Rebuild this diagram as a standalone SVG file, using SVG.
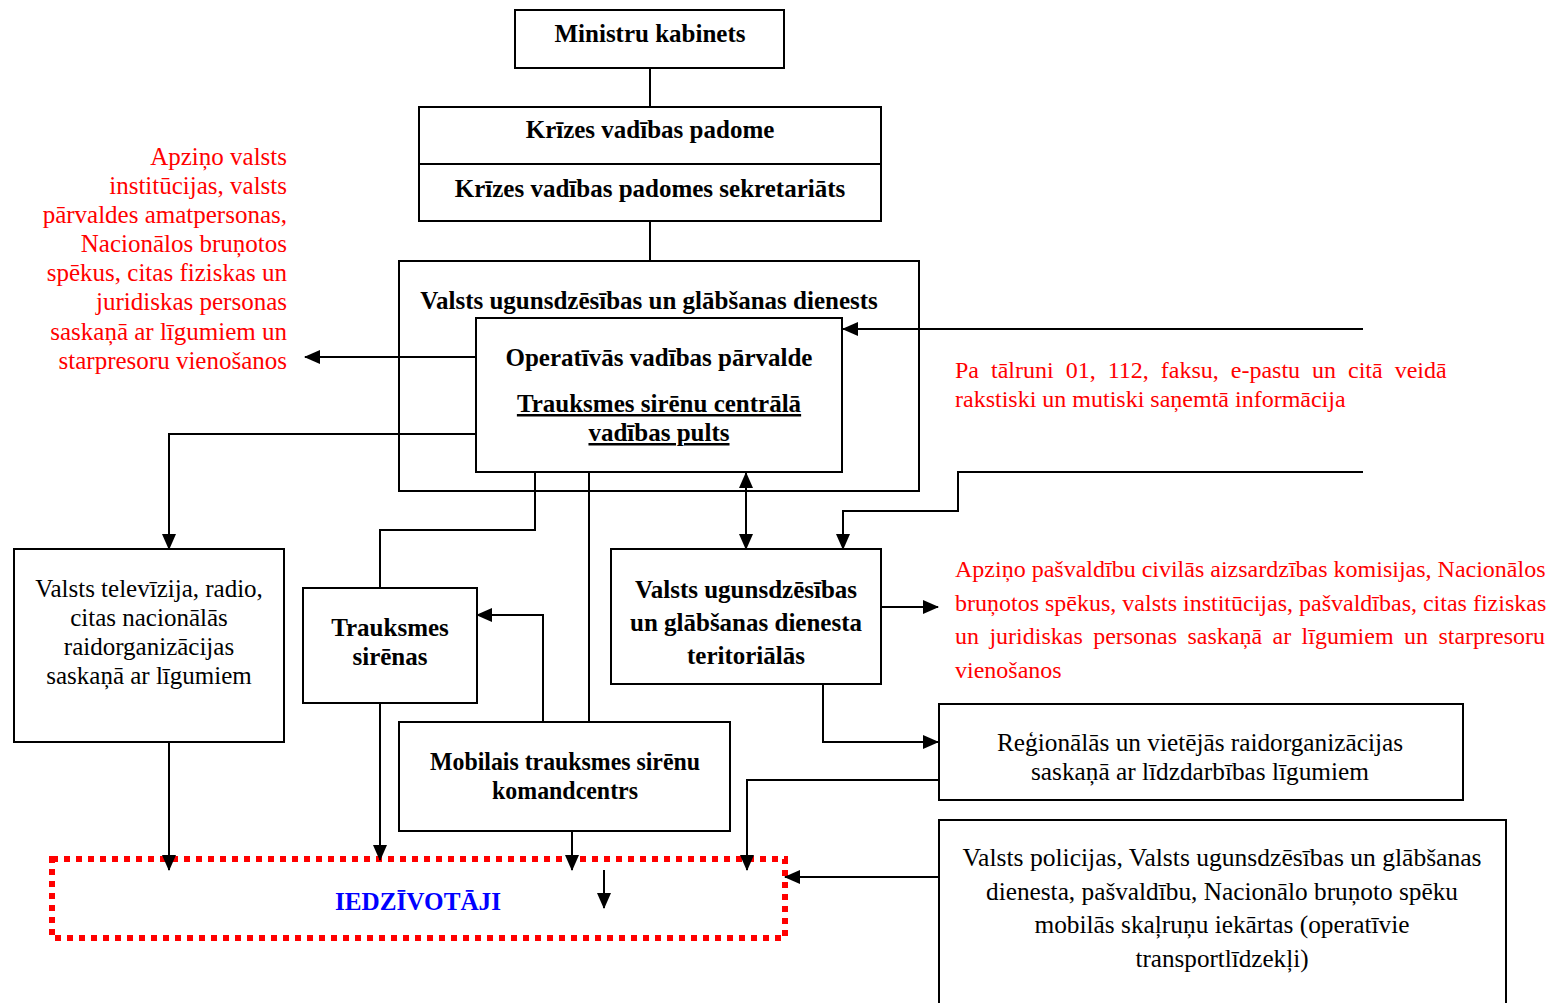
<svg xmlns="http://www.w3.org/2000/svg" width="1547" height="1003" viewBox="0 0 1547 1003">
<style>
.box{fill:#fff;stroke:#000;stroke-width:2}
.b{font-family:"Liberation Serif",serif;font-weight:bold;font-size:25px;fill:#000;text-anchor:middle}
.n{font-family:"Liberation Serif",serif;font-size:25px;fill:#000;text-anchor:middle}
.r{font-family:"Liberation Serif",serif;font-size:25px;fill:#f00;text-anchor:end}
.r2{font-family:"Liberation Serif",serif;font-size:24px;fill:#f00}
.c{fill:none;stroke:#000;stroke-width:2}
</style>
<defs>
<marker id="ah" markerUnits="userSpaceOnUse" markerWidth="16" markerHeight="14" refX="15" refY="7" orient="auto-start-reverse">
<path d="M0,0 L16,7 L0,14 Z" fill="#000"/>
</marker>
</defs>
<rect width="1547" height="1003" fill="#fff"/>

<g id="ministru">
<rect class="box" x="515" y="10" width="269" height="58"/>
<text class="b" x="650" y="42">Ministru kabinets</text>
</g>

<g id="krizes">
<rect class="box" x="419" y="107" width="462" height="114"/>
<line class="c" x1="419" y1="164" x2="881" y2="164"/>
<text class="b" x="650" y="138">Krīzes vadības padome</text>
<text class="b" x="650" y="197">Krīzes vadības padomes sekretariāts</text>
</g>

<g id="vugd">
<rect class="box" x="399" y="261" width="520" height="230"/>
<text class="b" x="649" y="309">Valsts ugunsdzēsības un glābšanas dienests</text>
</g>

<g id="ovp">
<rect class="box" x="476" y="318" width="366" height="154"/>
<text class="b" x="659" y="366">Operatīvās vadības pārvalde</text>
<text class="b" x="659" y="412" text-decoration="underline">Trauksmes sirēnu centrālā</text>
<text class="b" x="659" y="441" text-decoration="underline">vadības pults</text>
</g>

<g id="left-info">
<text class="r" x="287" y="165">Apziņo valsts</text>
<text class="r" x="287" y="194">institūcijas, valsts</text>
<text class="r" x="287" y="223">pārvaldes amatpersonas,</text>
<text class="r" x="287" y="252">Nacionālos bruņotos</text>
<text class="r" x="287" y="281">spēkus, citas fiziskas un</text>
<text class="r" x="287" y="310">juridiskas personas</text>
<text class="r" x="287" y="340">saskaņā ar līgumiem un</text>
<text class="r" x="287" y="369">starpresoru vienošanos</text>
</g>

<g id="top-right-info">
<text class="r2" x="955" y="378" word-spacing="6">Pa tālruni 01, 112, faksu, e-pastu un citā veidā</text>
<text class="r2" x="955" y="407">rakstiski un mutiski saņemtā informācija</text>
</g>

<g id="tv">
<rect class="box" x="14" y="549" width="270" height="193"/>
<text class="n" x="149" y="597">Valsts televīzija, radio,</text>
<text class="n" x="149" y="626">citas nacionālās</text>
<text class="n" x="149" y="655">raidorganizācijas</text>
<text class="n" x="149" y="684">saskaņā ar līgumiem</text>
</g>

<g id="sirenas">
<rect class="box" x="303" y="588" width="174" height="115"/>
<text class="b" x="390" y="636">Trauksmes</text>
<text class="b" x="390" y="665">sirēnas</text>
</g>

<g id="teritorialas">
<rect class="box" x="611" y="549" width="270" height="135"/>
<text class="b" x="746" y="598">Valsts ugunsdzēsības</text>
<text class="b" x="746" y="631">un glābšanas dienesta</text>
<text class="b" x="746" y="664">teritoriālās</text>
</g>

<g id="right-info">
<text class="r2" x="955" y="577">Apziņo pašvaldību civilās aizsardzības komisijas, Nacionālos</text>
<text class="r2" x="955" y="611">bruņotos spēkus, valsts institūcijas, pašvaldības, citas fiziskas</text>
<text class="r2" x="955" y="644" word-spacing="4.4">un juridiskas personas saskaņā ar līgumiem un starpresoru</text>
<text class="r2" x="955" y="678">vienošanos</text>
</g>

<g id="mobilais">
<rect class="box" x="399" y="722" width="331" height="109"/>
<text class="b" x="565" y="770" textLength="270" lengthAdjust="spacingAndGlyphs">Mobilais trauksmes sirēnu</text>
<text class="b" x="565" y="799" textLength="146" lengthAdjust="spacingAndGlyphs">komandcentrs</text>
</g>

<g id="regionalas">
<rect class="box" x="939" y="704" width="524" height="96"/>
<text class="n" x="1200" y="751" textLength="406" lengthAdjust="spacingAndGlyphs">Reģionālās un vietējās raidorganizācijas</text>
<text class="n" x="1200" y="780" textLength="338" lengthAdjust="spacingAndGlyphs">saskaņā ar līdzdarbības līgumiem</text>
</g>

<g id="policija">
<rect class="box" x="939" y="820" width="567" height="190"/>
<text class="n" x="1222" y="866" textLength="519" lengthAdjust="spacingAndGlyphs">Valsts policijas, Valsts ugunsdzēsības un glābšanas</text>
<text class="n" x="1222" y="900" textLength="472" lengthAdjust="spacingAndGlyphs">dienesta, pašvaldību, Nacionālo bruņoto spēku</text>
<text class="n" x="1222" y="933" textLength="375" lengthAdjust="spacingAndGlyphs">mobilās skaļruņu iekārtas (operatīvie</text>
<text class="n" x="1222" y="967" textLength="173" lengthAdjust="spacingAndGlyphs">transportlīdzekļi)</text>
</g>

<g id="iedzivotaji">
<rect x="52" y="859" width="733" height="79" fill="none" stroke="#f00" stroke-width="6" stroke-dasharray="6,6"/>
<text class="b" x="418" y="910" style="fill:#00f" textLength="166" lengthAdjust="spacingAndGlyphs">IEDZĪVOTĀJI</text>
</g>

<g id="connectors">
<path class="c" d="M650,68 V107"/>
<path class="c" d="M650,221 V261"/>
<path class="c" d="M1363,329 H843" marker-end="url(#ah)"/>
<path class="c" d="M476,357 H305" marker-end="url(#ah)"/>
<path class="c" d="M476,434 H169 V549" marker-end="url(#ah)"/>
<path class="c" d="M169,742 V870" marker-end="url(#ah)"/>
<path class="c" d="M535,472 V530 H380 V588"/>
<path class="c" d="M380,703 V860" marker-end="url(#ah)"/>
<path class="c" d="M589,472 V722"/>
<path class="c" d="M543,722 V615 H477" marker-end="url(#ah)"/>
<path class="c" d="M746,473 V549" marker-start="url(#ah)" marker-end="url(#ah)"/>
<path class="c" d="M1363,472 H958 V511 H843 V549" marker-end="url(#ah)"/>
<path class="c" d="M881,607 H938" marker-end="url(#ah)"/>
<path class="c" d="M823,684 V742 H938" marker-end="url(#ah)"/>
<path class="c" d="M939,780 H747 V870" marker-end="url(#ah)"/>
<path class="c" d="M939,877 H785" marker-end="url(#ah)"/>
<path class="c" d="M572,831 V870" marker-end="url(#ah)"/>
<path class="c" d="M604,870 V908" marker-end="url(#ah)"/>
</g>
</svg>
